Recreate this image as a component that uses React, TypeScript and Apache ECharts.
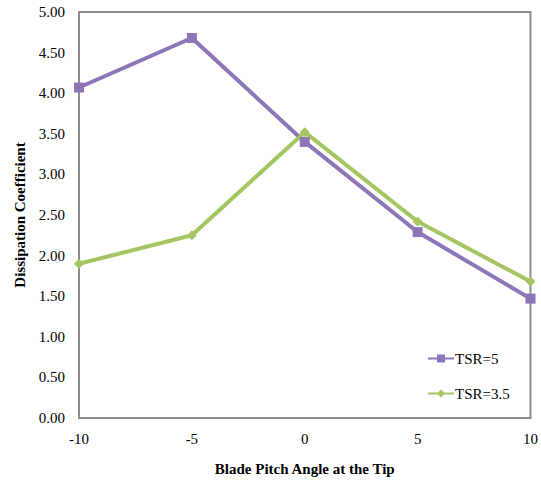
import React, { useEffect, useRef } from "react";
import * as echarts from "echarts";

const categories = ["-10", "-5", "0", "5", "10"];
const tsr5 = [4.07, 4.68, 3.4, 2.29, 1.47];
const tsr35 = [1.9, 2.25, 3.52, 2.42, 1.68];
const seriesNames = ["TSR=5", "TSR=3.5"];

const FONT = "Liberation Serif";

export default function App() {
  const ref = useRef<HTMLDivElement>(null);
  useEffect(() => {
    const chart = echarts.init(ref.current!, undefined, { renderer: "svg" });
    chart.setOption({
      animation: false,
      grid: {
        left: 79,
        right: 8,
        top: 12,
        bottom: 61,
        show: true,
        borderColor: "#8c8c8c",
        borderWidth: 2,
      },
      legend: {
        orient: "vertical",
        left: 422,
        top: 346,
        itemGap: 20,
        itemWidth: 26,
        itemHeight: 10,
        textStyle: { fontFamily: FONT, fontSize: 15, color: "#000", padding: [0, 0, 0, -4] },
        data: seriesNames,
      },
      xAxis: {
        type: "category",
        boundaryGap: false,
        data: categories,
        axisLine: { lineStyle: { color: "#8c8c8c", width: 2 } },
        axisTick: { show: false },
        axisLabel: { fontFamily: FONT, fontSize: 15, color: "#000", margin: 13 },
        name: "Blade Pitch Angle at the Tip",
        nameLocation: "middle",
        nameGap: 43,
        nameTextStyle: { fontFamily: FONT, fontSize: 15, fontWeight: "bold", color: "#000" },
      },
      yAxis: {
        type: "value",
        min: 0,
        max: 5,
        interval: 0.5,
        axisLine: { show: true, lineStyle: { color: "#8c8c8c", width: 2 } },
        axisTick: { show: false },
        splitLine: { show: false },
        axisLabel: {
          fontFamily: FONT,
          fontSize: 15,
          color: "#000",
          margin: 14,
          formatter: (v: number) => v.toFixed(2),
        },
        name: "Dissipation Coefficient",
        nameLocation: "middle",
        nameGap: 52,
        nameTextStyle: { fontFamily: FONT, fontSize: 15, fontWeight: "bold", color: "#000" },
      },
      series: [
        {
          name: seriesNames[0],
          type: "line",
          data: tsr5,
          symbol: "rect",
          symbolSize: 10,
          lineStyle: { width: 4, color: "#8d76b8" },
          itemStyle: { color: "#8d76b8" },
        },
        {
          name: seriesNames[1],
          type: "line",
          data: tsr35,
          symbol: "diamond",
          symbolSize: 10,
          lineStyle: { width: 4, color: "#a4c562" },
          itemStyle: { color: "#a4c562" },
        },
      ],
    });
    return () => chart.dispose();
  }, []);
  return (
    <div
      ref={ref}
      style={{ width: 541, height: 481, position: "absolute", left: 0, top: 0 }}
    />
  );
}
